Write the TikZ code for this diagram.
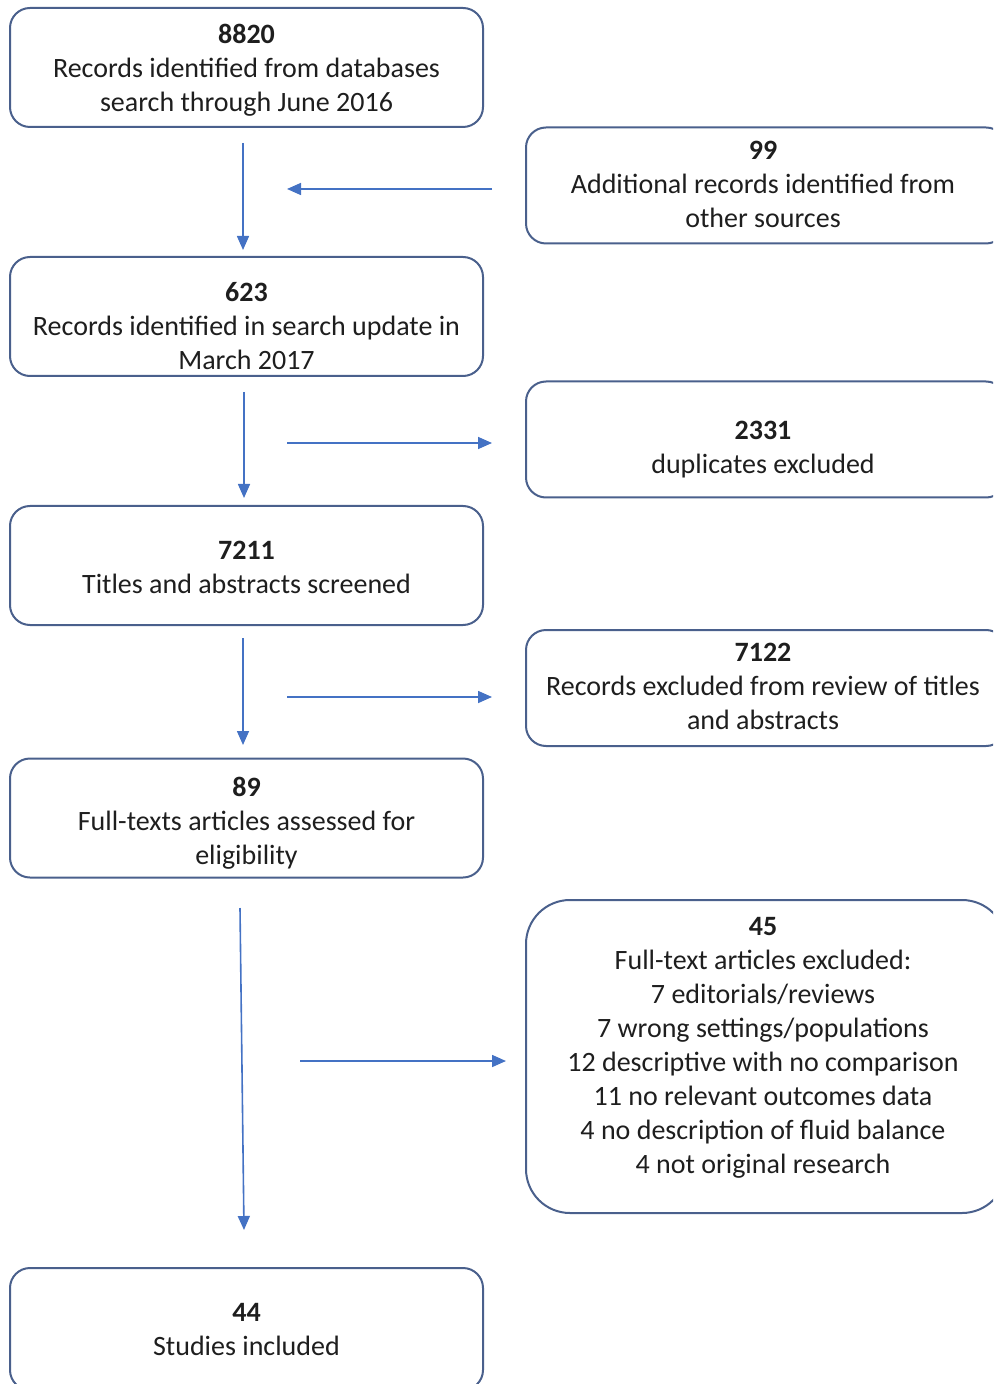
\documentclass[tikz,border=0pt]{standalone}
\usepackage{fontspec}
\setmainfont{Carlito}
\usetikzlibrary{arrows.meta,calc}
\definecolor{boxline}{RGB}{74,96,140}
\definecolor{arrowblue}{RGB}{68,114,196}
\definecolor{txt}{RGB}{30,30,30}
\begin{document}
\begin{tikzpicture}[x=0.5pt,y=-0.5pt,
  box/.style={draw=boxline,line width=1pt,rounded corners=10pt,inner sep=0pt},
  lbox/.style={box,minimum width=236.5pt,minimum height=59.5pt},
  rbox/.style={box,minimum width=240pt,minimum height=58pt},
  lbl/.style={align=center,text=txt,font=\fontsize{14pt}{17pt}\selectfont,inner sep=0pt},
  arr/.style={draw=arrowblue,line width=0.8pt,-{Triangle[length=7pt,width=6pt]}}]
\useasboundingbox (0,0) rectangle (993,1384);
\clip (0,0) rectangle (993,1384);
% left column
\node[lbox] (n1) at (246.5,67.5) {};
\node[lbox] (n2) at (246.5,316.5) {};
\node[lbox] (n3) at (246.5,565.5) {};
\node[lbox] (n4) at (246.5,818) {};
\node[lbox,minimum height=61pt] (n5) at (246.5,1329) {};
\node[lbl] (t1) at ($(n1.center)+(0,3)$) {\textbf{8820}\\Records identified from databases\\search through June 2016};
\node[lbl] (t2) at ($(n2.center)+(0,10)$) {\textbf{623}\\Records identified in search update in\\March 2017};
\node[lbl] (t3) at ($(n3.center)+(0,2)$) {\textbf{7211}\\Titles and abstracts screened};
\node[lbl] (t4) at ($(n4.center)+(0,5)$) {\textbf{89}\\Full-texts articles assessed for\\eligibility};
\node[lbl] (t5) at ($(n5.center)+(0,1)$) {\textbf{44}\\Studies included};
% right column
\node[rbox] (r1) at (766,185.5) {};
\node[rbox] (r2) at (766,439.5) {};
\node[rbox] (r3) at (766,688) {};
\node[box,minimum width=240pt,minimum height=156.5pt,rounded corners=22pt] (r4) at (766,1056.5) {};
\node[lbl] (s1) at ($(r1.center)+(-3,-1)$) {\textbf{99}\\Additional records identified from\\other sources};
\node[lbl] (s2) at ($(r2.center)+(-3,10)$) {\textbf{2331}\\duplicates excluded};
\node[lbl] (s3) at ($(r3.center)+(-3,-2)$) {\textbf{7122}\\Records excluded from review of titles\\and abstracts};
\node[lbl] (s4) at ($(r4.center)+(-3,-9)$) {\textbf{45}\\Full-text articles excluded:\\7 editorials/reviews\\7 wrong settings/populations\\12 descriptive with no comparison\\11 no relevant outcomes data\\4 no description of fluid balance\\4 not original research};
% arrow end points
\coordinate (v1s) at (243,143); \coordinate (v1e) at (243,250);
\coordinate (v2s) at (244,392); \coordinate (v2e) at (244,498);
\coordinate (v3s) at (243,638); \coordinate (v3e) at (243,745);
\coordinate (v4s) at (240,908); \coordinate (v4e) at (244,1230);
\coordinate (h1s) at (492,189); \coordinate (h1e) at (287,189);
\coordinate (h2s) at (287,443); \coordinate (h2e) at (492,443);
\coordinate (h3s) at (287,697); \coordinate (h3e) at (492,697);
\coordinate (h4s) at (300,1061); \coordinate (h4e) at (506,1061);
\draw[arr] (v1s) -- (v1e);
\draw[arr] (v2s) -- (v2e);
\draw[arr] (v3s) -- (v3e);
\draw[arr] (v4s) -- (v4e);
\draw[arr] (h1s) -- (h1e);
\draw[arr] (h2s) -- (h2e);
\draw[arr] (h3s) -- (h3e);
\draw[arr] (h4s) -- (h4e);
\end{tikzpicture}
\end{document}
